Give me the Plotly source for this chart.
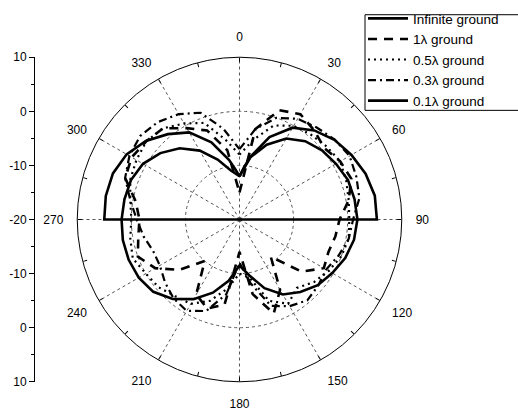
import plotly.graph_objects as go

# ---------------- data ----------------
angles = [0, 10, 20, 30, 40, 50, 60, 70, 80, 90, 100, 110, 120, 130, 140, 150, 160, 170,
          180, 190, 200, 210, 220, 230, 240, 250, 260, 270, 280, 290, 300, 310, 320, 330,
          340, 350, 360]

# Infinite ground: only upper half-space (270 -> 0 -> 90), floor (-20) on the horizon
inf_angles = [270, 270, 280, 290, 300, 310, 320, 330, 340, 350, 355, 0, 5, 10, 20, 30,
              40, 50, 60, 70, 80, 90, 90]
inf_values = [-20, 5.0, 5.1, 4.9, 4.1, 2.6, 0.6, -1.4, -4.8, -8.8, -10.6, -12.0, -10.3,
              -8.2, -3.8, -0.4, 1.5, 2.9, 3.9, 4.8, 5.4, 5.4, -20]

g1_values = [-15, -3, 1.5, 2.5, 1.5, 0.5, 1.5, 2.0, 0.5, -1.5, -2.0, -2.5, -2.0, -5,
             -11, -5, -1.5, -6, -14, -4, -2.5, -4, -10, -5.5, -2, 0, -1, -1.5, -0.5, 2.5,
             3, 2.5, 2, -0.5, -2.5, -7, -15]

g05_values = [-8, -5, -1.5, 0, 0.5, 1.0, 1.5, 1.0, 0.5, 0.3, 0.5, 0, -1, -2, -3.5, -2, -4,
              -9, -10, -7, -4, -2, -1.5, -0.5, 0, 1, 0.5, 0, 0.5, 1.5, 2, 2.5, 2, 0.5, -1,
              -5, -8]

g03_values = [-7, -3, 0, 1.5, 2.2, 3, 3.5, 3.0, 2.5, 1.0, 0.5, -0.5, -1.5, -1, -0.5, -1.5,
              -3, -8, -12, -6, -2, -0.5, -1, -2, -3, -3, -2, -1, 0.5, 2.5, 3.5, 4, 3.5, 2.5,
              1.0, -3, -7]

g01_values = [-12, -8.3, -5.3, -2.7, -1.1, -0.1, 0.6, 1.35, 1.6, 1.8, 1.5, 0.8, -0.2, -1.1,
              -2.5, -4.0, -6.5, -9.5, -11.5, -8.5, -5.6, -3.0, -0.8, 0.8, 1.5, 1.8, 1.9,
              1.8, 1.6, 1.35, 0.6, -0.9, -2.8, -5.3, -8.2, -10.8, -12]

major_angles = [0, 30, 60, 90, 120, 150, 180, 210, 240, 270, 300, 330]
minor_angles = list(range(0, 360, 15))
radial_range = [-20, 10]
radial_grid = [-10, 0]

left_tickvals = [-30, -20, -10, 0, 10, 20, 30]
left_ticktext = ["10", "0", "-10", "-20", "-10", "0", "10"]

names = ["Infinite ground", "1λ ground", "0.5λ ground", "0.3λ ground", "0.1λ ground"]

# ---------------- figure ----------------
W, H = 518, 411
FONT = "Arial, Liberation Sans, sans-serif"
cx, cy, R = 239.5, 220.0, 168.0
dom_x = [(cx - R) / W, (cx + R) / W]
dom_y = [(H - cy - R) / H, (H - cy + R) / H]

fig = go.Figure()

fig.add_trace(go.Scatterpolar(theta=inf_angles, r=inf_values, mode="lines", name=names[0],
                              line=dict(color="black", width=2.6)))
fig.add_trace(go.Scatterpolar(theta=angles, r=g1_values, mode="lines", name=names[1],
                              line=dict(color="black", width=2.6, dash="9px,7px")))
fig.add_trace(go.Scatterpolar(theta=angles, r=g05_values, mode="lines", name=names[2],
                              line=dict(color="black", width=2.2, dash="2px,4px")))
fig.add_trace(go.Scatterpolar(theta=angles, r=g03_values, mode="lines", name=names[3],
                              line=dict(color="black", width=2.2, dash="8px,4px,2px,4px")))
fig.add_trace(go.Scatterpolar(theta=angles, r=g01_values, mode="lines", name=names[4],
                              line=dict(color="black", width=2.6)))

# empty trace for the minor-tick polar subplot
fig.add_trace(go.Scatterpolar(theta=[], r=[], subplot="polar2", showlegend=False,
                              hoverinfo="skip"))
# empty trace for the left cartesian scale
fig.add_trace(go.Scatter(x=[None], y=[None], xaxis="x", yaxis="y", showlegend=False,
                         hoverinfo="skip"))

# legend frame (white box, drawn above the plot, legend text sits on it)
fig.add_shape(type="rect", xref="paper", yref="paper",
              x0=365 / W, x1=1.05, y0=1 - 107 / H, y1=1 - 8 / H,
              line=dict(color="black", width=1), fillcolor="white", layer="above")

fig.update_layout(
    width=W, height=H,
    margin=dict(l=0, r=0, t=0, b=0),
    paper_bgcolor="white",
    plot_bgcolor="rgba(0,0,0,0)",
    font=dict(family=FONT, size=12, color="black"),
    showlegend=True,
    legend=dict(
        x=363 / W, y=1 + 4 / H, xanchor="left", yanchor="top",
        bgcolor="rgba(0,0,0,0)", borderwidth=0,
        font=dict(family=FONT, size=13.5, color="black"),
        tracegroupgap=0, itemwidth=40,
    ),
    polar=dict(
        domain=dict(x=dom_x, y=dom_y),
        bgcolor="rgba(0,0,0,0)",
        angularaxis=dict(
            rotation=90, direction="clockwise",
            tickmode="array", tickvals=major_angles,
            ticktext=[str(a) for a in major_angles],
            ticks="outside", ticklen=11, tickcolor="rgba(0,0,0,0)",
            showline=True, linecolor="black", linewidth=1,
            showgrid=True, gridcolor="#555555", gridwidth=1, griddash="dot",
            tickfont=dict(family=FONT, size=12, color="black"),
        ),
        radialaxis=dict(
            range=radial_range, tickmode="array", tickvals=radial_grid,
            showticklabels=False, ticks="", showline=False,
            showgrid=True, gridcolor="#555555", gridwidth=1, griddash="dot",
        ),
    ),
    polar2=dict(
        domain=dict(x=dom_x, y=dom_y),
        bgcolor="rgba(0,0,0,0)",
        angularaxis=dict(
            rotation=90, direction="clockwise",
            tickmode="array", tickvals=minor_angles,
            ticks="inside", ticklen=4, tickcolor="black", tickwidth=1,
            showticklabels=False, showline=False, showgrid=False,
        ),
        radialaxis=dict(visible=False, range=radial_range),
    ),
    xaxis=dict(domain=[35 / W, 0.2], range=[0, 1], visible=False, fixedrange=True),
    yaxis=dict(
        domain=dom_y, range=[-30, 30], anchor="x",
        tickmode="array", tickvals=left_tickvals, ticktext=left_ticktext,
        ticks="outside", ticklen=5, tickcolor="black", tickwidth=1,
        showline=True, linecolor="black", linewidth=1,
        showgrid=False, zeroline=False,
        tickfont=dict(family=FONT, size=12, color="black"),
        minor=dict(tickmode="linear", tick0=0, dtick=5, ticks="outside", ticklen=3,
                   tickcolor="black", showgrid=False),
    ),
)

fig.write_html("out.html")
